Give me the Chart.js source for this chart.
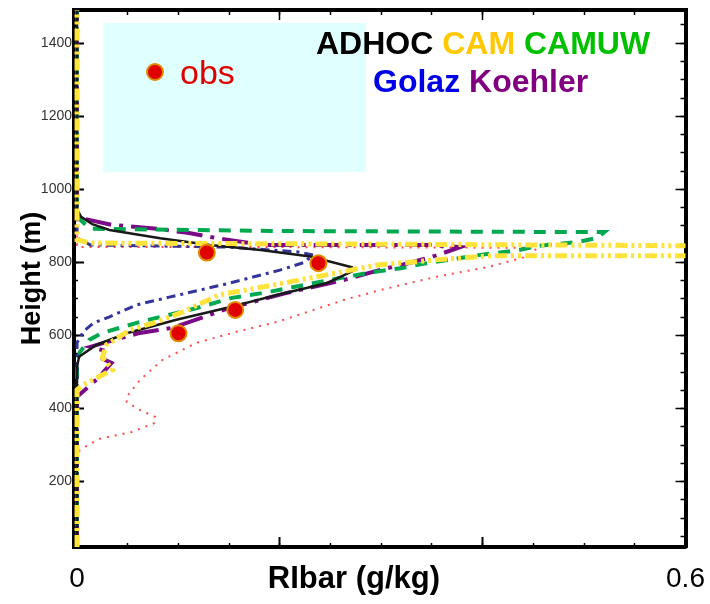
<!DOCTYPE html>
<html>
<head>
<meta charset="utf-8">
<script src="https://cdn.jsdelivr.net/npm/chart.js@4.4.1/dist/chart.umd.min.js"></script>
<style>
  html, body { margin: 0; padding: 0; background: #fff; }
</style>
</head>
<body>
<canvas id="chart" width="710" height="604"></canvas>
<script>
// axis ranges and tick labels
const xMin = -0.003, xMax = 0.6;
const yMin = 21, yMax = 1491;
const xTicks = [0, 0.2, 0.4, 0.6];
const xTickLabels = ['0', '', '', '0.6'];
const heightTicks = [200, 400, 600, 800, 1000, 1200, 1400];

// profiles: [RIbar g/kg, height m] (bottom to top)
const adhoc = [[0,21],[0,515],[0.002,542],[0.019,574],[0.049,606],[0.098,643],[0.147,675],[0.197,711],[0.246,743],[0.271,775],[0.271,787],[0.230,816],[0.181,834],[0.131,848],[0.082,866],[0.032,889],[0.015,905],[0.004,925],[0,945],[0,1491]];
const cam = [[0,21],[0,451],[0.006,465],[0.035,506],[0.025,540],[0.029,574],[0.052,615],[0.075,634],[0.104,664],[0.140,711],[0.193,738],[0.246,766],[0.296,793],[0.331,801],[0.354,807],[0.406,818],[0.65,818],[0.65,845],[0.30,850],[0.013,853],[0,862],[0,1491]];
const camuw = [[0,21],[0,528],[0.003,555],[0.012,588],[0.025,607],[0.062,637],[0.118,675],[0.153,703],[0.189,719],[0.249,752],[0.286,771],[0.321,785],[0.341,796],[0.396,820],[0.436,834],[0.454,845],[0.494,856],[0.513,867],[0.520,883],[0.40,884],[0.2,886],[0.013,892],[0,925],[0,1491]];
const golaz = [[0,21],[0,580],[0.006,610],[0.016,634],[0.032,651],[0.059,684],[0.091,705],[0.147,741],[0.200,779],[0.223,799],[0.233,820],[0.217,829],[0.148,842],[0.013,848],[0,867],[0,1491]];
const koehler = [[0,21],[0,432],[0.021,484],[0.034,525],[0.023,539],[0.025,560],[0.013,569],[0.029,582],[0.062,607],[0.094,621],[0.150,675],[0.206,716],[0.263,752],[0.298,779],[0.320,793],[0.350,815],[0.378,842],[0.347,848],[0.183,848],[0.137,867],[0.109,881],[0.079,892],[0.034,903],[0.003,922],[0,938],[0,1491]];
const redProfile = [[0,21],[0,275],[0.003,287],[0.022,317],[0.054,336],[0.077,361],[0.077,377],[0.062,396],[0.049,418],[0.049,432],[0.062,478],[0.084,533],[0.118,580],[0.157,610],[0.197,637],[0.263,697],[0.300,725],[0.353,760],[0.406,788],[0.449,820],[0.453,840],[0.2,842],[0,842],[0,1491]];
const obs = [[0.128,827],[0.238,798],[0.156,670],[0.100,606]];

const legendRows = [['ADHOC', 'CAM', 'CAMUW'], ['Golaz', 'Koehler']];
const legendColors = { ADHOC: '#000000', CAM: '#ffc800', CAMUW: '#00c000', Golaz: '#0000e6', Koehler: '#800080' };

const font = 'Liberation Sans, Arial, sans-serif';
const toXY = arr => arr.map(p => ({ x: p[0], y: p[1] }));

function profile(label, data, color, width, dash) {
  return {
    label, data: toXY(data), showLine: true, pointRadius: 0,
    borderColor: color, borderWidth: width, borderDash: dash, tension: 0
  };
}

// no extra room for labels hanging past the ends of an axis
function noPadding(s) {
  s.paddingLeft = 0; s.paddingRight = 0; s.paddingTop = 0; s.paddingBottom = 0;
}

// tick-only axes, used for the inward minor/major tick marks of the frame
function tickAxis(axis, position, step, len, showBorder) {
  return {
    type: 'linear', axis, position, weight: 0,
    min: axis === 'x' ? xMin : yMin,
    max: axis === 'x' ? xMax : yMax,
    afterFit: s => {
      if (axis === 'x') s.height = 0; else s.width = 0;
      noPadding(s);
    },
    ticks: { display: false, stepSize: step, includeBounds: false },
    grid: { drawOnChartArea: false, tickLength: -len, tickWidth: 1.5, tickColor: '#000' },
    border: { display: showBorder, color: '#000', width: 4 }
  };
}

// legend box drawn under the curves
const legendBox = {
  id: 'legendBox',
  beforeDatasetsDraw(chart) {
    const { ctx, chartArea: a } = chart;
    ctx.save();
    ctx.fillStyle = '#e0ffff';
    ctx.fillRect(a.left + 29, a.top + 13, 263, 149);

    ctx.beginPath();
    ctx.arc(a.left + 81, a.top + 62, 8, 0, Math.PI * 2);
    ctx.fillStyle = '#e00000';
    ctx.fill();
    ctx.lineWidth = 2;
    ctx.strokeStyle = '#e08a00';
    ctx.stroke();
    ctx.fillStyle = '#e00000';
    ctx.font = '34px ' + font;
    ctx.textBaseline = 'middle';
    ctx.fillText('obs', a.left + 106, a.top + 65);

    ctx.font = 'bold 32px ' + font;
    const rowStart = [a.left + 242, a.left + 299];
    const rowY = [a.top + 35, a.top + 73];
    legendRows.forEach((row, r) => {
      let x = rowStart[r];
      row.forEach(name => {
        ctx.fillStyle = legendColors[name];
        ctx.fillText(name, x, rowY[r]);
        x += ctx.measureText(name + ' ').width;
      });
    });
    ctx.restore();
  }
};

new Chart(document.getElementById('chart'), {
  type: 'scatter',
  data: {
    datasets: [
      { label: 'obs', data: toXY(obs), pointRadius: 8, pointBackgroundColor: '#e00000', pointBorderColor: '#e08a00', pointBorderWidth: 2 },
      profile('CAM', cam, '#ffe23a', 5, [12, 4, 3, 4, 3, 4]),
      profile('ADHOC', adhoc, '#1a1a1a', 2.5, []),
      profile('Golaz', golaz, '#34349c', 3, [9, 5, 3, 5]),
      profile('CAMUW', camuw, '#00a84f', 4, [12, 9]),
      profile('Koehler', koehler, '#7a0a88', 4, [26, 8, 4, 8]),
      profile('', redProfile, '#ff4a4a', 2, [2, 6])
    ]
  },
  options: {
    responsive: false,
    animation: false,
    layout: { padding: { left: 0, right: 24.5, top: 10, bottom: 0 } },
    plugins: { legend: { display: false }, tooltip: { enabled: false } },
    scales: {
      x: {
        type: 'linear', position: 'bottom', min: xMin, max: xMax, weight: 1,
        afterBuildTicks: s => { s.ticks = xTicks.map(v => ({ value: v })); },
        afterFit: s => { s.height = 57; noPadding(s); },
        ticks: {
          font: { size: 28, family: font }, color: '#000', padding: 25,
          maxRotation: 0, autoSkip: false,
          callback: (v, i) => xTickLabels[i]
        },
        grid: { drawOnChartArea: false, tickLength: -10, tickWidth: 2, tickColor: '#000' },
        border: { color: '#000', width: 4 },
        title: {
          display: true, text: 'RIbar (g/kg)\u00a0\u00a0\u00a0\u00a0\u00a0\u00a0',
          font: { size: 31, weight: 'bold', family: font }, color: '#000',
          padding: { top: 0, bottom: 6 }
        }
      },
      y: {
        type: 'linear', position: 'left', min: yMin, max: yMax, weight: 1,
        afterBuildTicks: s => { s.ticks = heightTicks.map(v => ({ value: v })); },
        afterFit: s => { s.width = 74; noPadding(s); },
        ticks: { font: { size: 14, family: font }, color: '#333', padding: 12, callback: v => String(v) },
        grid: { drawOnChartArea: false, tickLength: -10, tickWidth: 2, tickColor: '#000' },
        border: { color: '#000', width: 4 },
        title: {
          display: true, text: 'Height (m)',
          font: { size: 27, weight: 'bold', family: font }, color: '#000',
          padding: { top: 16, bottom: 0 }
        }
      },
      xMinor: tickAxis('x', 'bottom', 0.05, 4, false),
      yMinor: tickAxis('y', 'left', 50, 4, false),
      xTop: tickAxis('x', 'top', 0.05, 5, true),
      xTopMajor: tickAxis('x', 'top', 0.2, 10, false),
      yRight: tickAxis('y', 'right', 50, 5, true),
      yRightMajor: tickAxis('y', 'right', 200, 10, false)
    }
  },
  plugins: [legendBox]
});
</script>
</body>
</html>
